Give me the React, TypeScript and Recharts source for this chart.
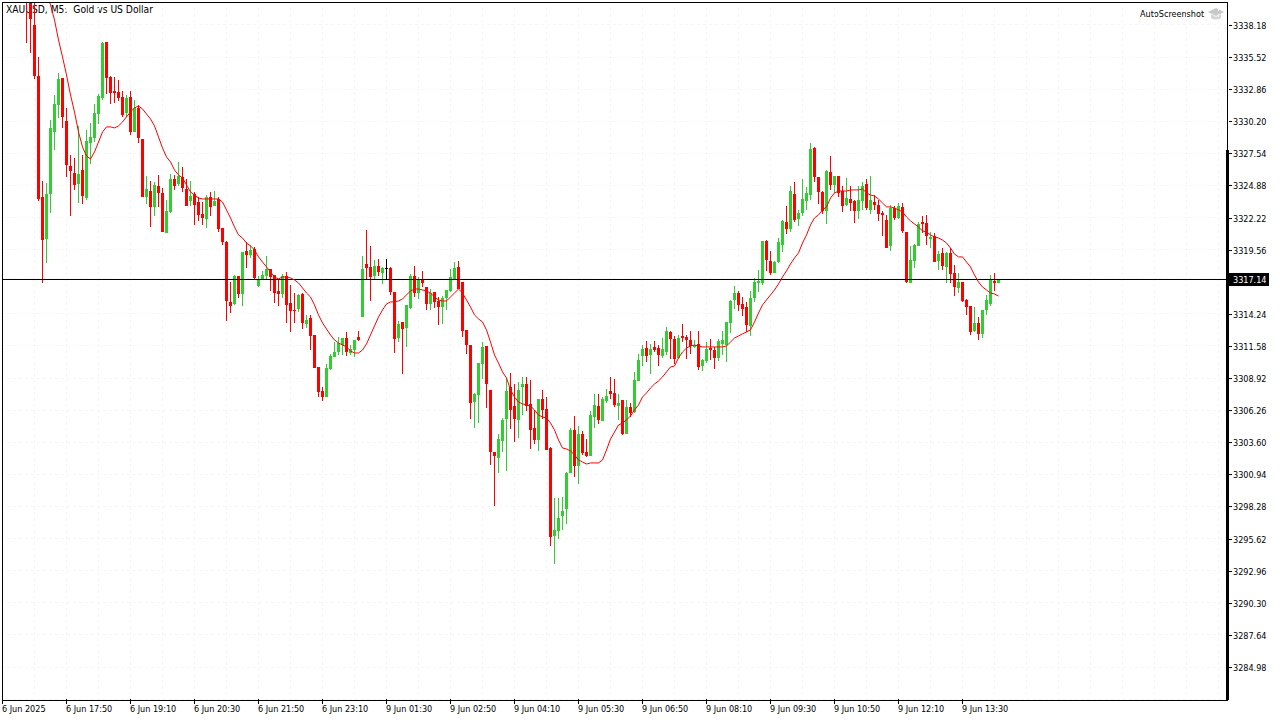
import { ComposedChart, Bar, Line, XAxis, YAxis, CartesianGrid, ReferenceLine } from "recharts";

// M5 bars, oldest first. The first few bars of the window sit above the visible price range.
const opens = [
  3341.6, 3341.2, 3338.18, 3333.95, 3323.93, 3320.45, 3324.18, 3329.31, 3331.55, 3333.78,
  3330.22, 3326.49, 3325.92, 3325.0, 3326.16, 3323.84, 3328.4, 3328.82, 3330.8, 3332.13,
  3336.77, 3333.87, 3332.71, 3332.63, 3332.21, 3330.89, 3332.21, 3329.31, 3331.3, 3328.73,
  3323.93, 3324.42, 3323.1, 3324.84, 3324.26, 3320.94, 3322.68, 3325.42, 3325.0, 3325.58,
  3324.59, 3323.6, 3324.18, 3323.51, 3322.52, 3322.1, 3323.93, 3323.18, 3323.76, 3321.36,
  3320.2, 3315.23, 3315.06, 3317.38, 3315.89, 3319.45, 3319.12, 3319.62, 3316.55, 3317.13,
  3317.38, 3317.96, 3317.46, 3316.14, 3315.89, 3317.38, 3315.14, 3314.56, 3314.65, 3315.89,
  3313.4, 3313.9, 3312.49, 3309.84, 3307.85, 3307.35, 3309.67, 3310.67, 3311.08, 3311.66,
  3312.24, 3311.0, 3311.25, 3312.33, 3313.98, 3318.38, 3318.13, 3317.38, 3318.21, 3317.63,
  3318.04, 3318.04, 3316.05, 3312.24, 3313.57, 3313.07, 3314.73, 3317.38, 3315.97, 3317.13,
  3316.47, 3315.06, 3316.05, 3315.31, 3314.81, 3315.56, 3316.14, 3317.05, 3318.13, 3316.88,
  3312.91, 3311.66, 3306.94, 3307.52, 3310.09, 3311.58, 3307.94, 3302.8, 3302.3, 3303.71,
  3305.53, 3308.18, 3306.61, 3305.45, 3308.18, 3308.43, 3306.78, 3304.79, 3303.79, 3307.19,
  3306.36, 3303.13, 3295.84, 3296.25, 3297.49, 3298.07, 3301.06, 3304.62, 3301.64, 3304.29,
  3302.8, 3302.47, 3305.7, 3306.61, 3305.37, 3307.02, 3307.85, 3307.69, 3306.61, 3307.11,
  3304.29, 3306.53, 3306.11, 3308.68, 3310.75, 3311.41, 3310.83, 3311.5, 3311.41, 3310.75,
  3311.08, 3312.74, 3312.16, 3310.59, 3312.41, 3312.33, 3312.08, 3311.5, 3311.75, 3309.92,
  3310.34, 3311.41, 3311.25, 3310.59, 3311.75, 3311.66, 3313.49, 3315.39, 3315.97, 3315.06,
  3314.81, 3313.24, 3315.56, 3316.8, 3316.8, 3320.28, 3318.62, 3317.63, 3318.54, 3319.95,
  3321.86, 3321.28, 3324.18, 3322.1, 3322.6, 3323.6, 3324.09, 3327.99, 3325.58, 3324.34,
  3322.77, 3326.0, 3324.92, 3325.67, 3324.42, 3323.26, 3323.76, 3323.6, 3322.77, 3323.6,
  3325.0, 3322.85, 3323.51, 3323.26, 3322.6, 3322.02, 3319.87, 3323.01, 3322.19, 3323.1,
  3321.03, 3316.8, 3318.62, 3319.87, 3321.86, 3321.77, 3320.45, 3320.69, 3318.62, 3319.29,
  3318.13, 3319.29, 3317.63, 3316.39, 3316.88, 3315.39, 3314.89, 3312.82, 3313.49, 3312.58,
  3314.56, 3315.06, 3316.97, 3316.8,
];

const highs = [
  3342.3, 3342.4, 3341.0, 3335.53, 3325.25, 3325.09, 3330.31, 3332.38, 3334.2, 3333.78,
  3331.3, 3327.41, 3327.16, 3329.81, 3327.41, 3329.48, 3330.06, 3331.63, 3332.46, 3336.77,
  3336.77, 3333.95, 3333.87, 3333.62, 3332.71, 3332.38, 3332.71, 3331.96, 3331.55, 3328.73,
  3325.67, 3325.25, 3325.17, 3325.75, 3324.67, 3323.68, 3325.83, 3325.75, 3326.83, 3326.41,
  3325.42, 3325.25, 3324.34, 3323.93, 3323.51, 3324.09, 3324.34, 3324.42, 3323.93, 3321.36,
  3320.28, 3316.88, 3317.46, 3317.38, 3319.37, 3320.2, 3319.95, 3319.78, 3317.38, 3317.8,
  3319.04, 3317.96, 3317.46, 3317.13, 3317.55, 3317.71, 3316.63, 3315.97, 3315.89, 3315.97,
  3314.15, 3314.15, 3312.49, 3309.84, 3308.18, 3310.09, 3310.92, 3311.91, 3312.33, 3312.24,
  3312.74, 3311.66, 3312.08, 3312.82, 3319.04, 3321.19, 3319.87, 3318.71, 3318.79, 3318.13,
  3318.79, 3318.13, 3316.05, 3313.65, 3313.57, 3314.98, 3317.55, 3318.21, 3317.3, 3317.8,
  3316.47, 3316.3, 3316.05, 3315.64, 3315.72, 3316.22, 3317.96, 3318.54, 3318.62, 3316.88,
  3312.91, 3311.66, 3307.69, 3310.17, 3311.91, 3311.58, 3307.94, 3302.8, 3304.29, 3305.61,
  3308.93, 3309.34, 3308.43, 3308.6, 3309.01, 3309.01, 3308.76, 3306.28, 3307.19, 3307.94,
  3307.35, 3303.21, 3298.99, 3298.99, 3299.07, 3301.14, 3304.79, 3305.78, 3304.95, 3304.54,
  3303.87, 3306.19, 3307.6, 3307.6, 3307.35, 3308.02, 3309.01, 3308.85, 3307.6, 3307.11,
  3307.11, 3306.86, 3309.43, 3310.92, 3311.66, 3312.0, 3311.75, 3312.0, 3311.66, 3312.24,
  3313.15, 3312.82, 3312.41, 3312.49, 3313.4, 3312.49, 3312.82, 3312.08, 3312.82, 3310.5,
  3311.91, 3312.16, 3311.5, 3312.16, 3312.82, 3313.57, 3315.39, 3316.55, 3316.14, 3315.64,
  3315.23, 3316.14, 3317.22, 3317.88, 3320.28, 3320.36, 3319.45, 3318.62, 3320.53, 3322.02,
  3323.18, 3324.84, 3325.17, 3322.85, 3325.42, 3324.76, 3328.4, 3328.07, 3325.58, 3324.42,
  3326.16, 3327.32, 3325.67, 3325.67, 3324.84, 3325.5, 3324.84, 3323.68, 3324.84, 3325.17,
  3325.42, 3325.67, 3324.09, 3323.68, 3322.77, 3322.44, 3323.26, 3323.18, 3323.43, 3323.43,
  3321.03, 3319.87, 3320.03, 3321.86, 3322.35, 3322.44, 3321.03, 3320.94, 3319.45, 3319.7,
  3319.37, 3319.7, 3318.29, 3317.63, 3316.88, 3315.48, 3314.89, 3314.81, 3313.98, 3314.56,
  3315.81, 3317.46, 3317.63, 3317.14,
];

const lows = [
  3336.69, 3335.86, 3333.7, 3323.6, 3316.8, 3318.46, 3322.6, 3327.82, 3330.47, 3329.65,
  3325.58, 3322.35, 3324.51, 3323.43, 3323.35, 3323.68, 3326.66, 3328.48, 3329.98, 3331.96,
  3332.46, 3331.63, 3331.72, 3331.88, 3330.56, 3330.56, 3329.06, 3329.31, 3328.4, 3323.93,
  3323.35, 3321.44, 3322.35, 3323.1, 3321.03, 3320.94, 3322.6, 3324.51, 3324.84, 3324.34,
  3323.18, 3323.18, 3321.61, 3321.94, 3321.61, 3321.36, 3322.35, 3323.18, 3321.03, 3319.95,
  3313.65, 3314.31, 3314.98, 3315.56, 3314.89, 3318.04, 3318.87, 3317.05, 3316.47, 3317.05,
  3317.05, 3316.14, 3315.14, 3314.89, 3315.56, 3313.49, 3312.74, 3313.49, 3314.4, 3312.99,
  3313.07, 3311.25, 3309.76, 3307.35, 3307.02, 3307.35, 3309.59, 3310.67, 3310.83, 3310.83,
  3310.75, 3310.83, 3310.67, 3312.0, 3313.98, 3317.05, 3315.31, 3317.05, 3317.38, 3316.72,
  3317.13, 3315.81, 3311.0, 3311.91, 3309.26, 3311.5, 3314.65, 3315.64, 3315.48, 3316.47,
  3314.56, 3314.56, 3314.73, 3313.32, 3313.4, 3314.56, 3316.05, 3317.05, 3316.3, 3312.33,
  3310.92, 3305.53, 3304.79, 3305.2, 3308.85, 3306.44, 3301.72, 3298.32, 3301.06, 3302.8,
  3301.22, 3304.7, 3303.63, 3303.96, 3305.86, 3306.19, 3303.05, 3303.46, 3302.88, 3305.53,
  3302.96, 3295.01, 3293.52, 3295.59, 3296.34, 3296.83, 3301.06, 3300.73, 3300.15, 3302.55,
  3302.38, 3302.47, 3304.79, 3305.12, 3305.37, 3306.86, 3307.19, 3306.53, 3305.45, 3304.21,
  3304.29, 3305.7, 3306.03, 3308.68, 3309.92, 3310.25, 3309.26, 3311.08, 3309.92, 3310.59,
  3310.83, 3310.5, 3310.09, 3310.5, 3311.91, 3310.5, 3310.92, 3311.41, 3309.59, 3309.51,
  3310.17, 3310.42, 3309.67, 3310.34, 3310.83, 3310.25, 3312.66, 3314.65, 3314.48, 3314.07,
  3312.74, 3312.41, 3315.23, 3316.05, 3316.63, 3317.8, 3317.46, 3317.63, 3318.46, 3319.37,
  3320.86, 3321.03, 3321.86, 3321.52, 3322.35, 3322.85, 3323.68, 3325.17, 3323.35, 3322.52,
  3321.69, 3324.51, 3324.26, 3323.93, 3322.68, 3323.18, 3322.77, 3321.77, 3322.1, 3322.85,
  3322.85, 3322.52, 3322.85, 3321.94, 3320.69, 3319.7, 3319.45, 3322.02, 3322.1, 3320.94,
  3316.8, 3316.8, 3318.04, 3319.87, 3320.94, 3319.95, 3319.7, 3318.54, 3317.88, 3317.88,
  3316.8, 3316.8, 3315.72, 3315.97, 3315.23, 3314.15, 3312.49, 3312.74, 3312.08, 3312.24,
  3314.15, 3314.89, 3316.14, 3316.8,
];

const closes = [
  3340.6, 3338.68, 3333.95, 3323.76, 3320.36, 3324.18, 3329.65, 3331.63, 3333.7, 3330.56,
  3326.58, 3326.08, 3324.92, 3325.83, 3324.01, 3328.57, 3328.9, 3330.89, 3332.3, 3336.69,
  3333.78, 3332.54, 3332.54, 3332.13, 3330.72, 3332.13, 3329.31, 3331.3, 3328.82, 3323.93,
  3324.59, 3323.1, 3324.92, 3324.26, 3321.03, 3322.77, 3325.42, 3324.84, 3325.67, 3324.67,
  3323.18, 3324.01, 3323.26, 3322.44, 3322.19, 3323.93, 3323.1, 3323.6, 3321.28, 3320.2,
  3315.31, 3314.89, 3317.38, 3315.89, 3319.37, 3319.12, 3319.54, 3317.22, 3317.13, 3317.46,
  3317.96, 3317.3, 3315.97, 3315.89, 3317.38, 3314.98, 3314.48, 3314.48, 3315.81, 3313.49,
  3313.74, 3312.41, 3309.76, 3307.77, 3307.35, 3309.76, 3310.75, 3311.08, 3311.83, 3312.24,
  3311.08, 3311.33, 3312.08, 3312.08, 3317.96, 3318.04, 3317.3, 3318.21, 3317.71, 3318.04,
  3318.04, 3316.05, 3312.16, 3313.4, 3312.99, 3314.98, 3317.38, 3315.97, 3317.13, 3316.8,
  3315.06, 3315.97, 3315.23, 3314.81, 3315.56, 3316.22, 3317.3, 3318.04, 3316.3, 3312.82,
  3311.66, 3306.86, 3307.6, 3310.17, 3311.5, 3308.43, 3302.8, 3302.47, 3303.87, 3305.45,
  3307.85, 3306.28, 3305.53, 3307.94, 3308.43, 3306.61, 3304.62, 3303.79, 3307.19, 3306.28,
  3302.96, 3295.75, 3296.34, 3297.33, 3297.91, 3301.06, 3304.62, 3301.64, 3304.29, 3302.71,
  3302.47, 3305.86, 3306.69, 3305.45, 3307.19, 3307.44, 3307.6, 3306.69, 3306.86, 3304.29,
  3306.53, 3306.03, 3308.76, 3310.42, 3311.33, 3310.75, 3311.33, 3311.25, 3310.83, 3311.33,
  3312.82, 3312.16, 3310.5, 3312.24, 3312.24, 3312.08, 3311.58, 3311.66, 3309.84, 3310.42,
  3311.33, 3311.25, 3310.59, 3312.0, 3312.08, 3313.57, 3315.31, 3315.97, 3314.98, 3314.65,
  3313.32, 3315.56, 3316.88, 3316.97, 3320.28, 3318.71, 3317.63, 3318.54, 3320.2, 3321.94,
  3321.28, 3324.42, 3322.02, 3322.6, 3323.76, 3324.26, 3327.9, 3325.58, 3324.34, 3322.77,
  3326.08, 3324.92, 3325.67, 3324.26, 3323.18, 3323.84, 3323.43, 3322.77, 3323.68, 3324.84,
  3323.01, 3323.68, 3323.26, 3322.52, 3322.44, 3319.7, 3323.01, 3322.19, 3323.18, 3321.11,
  3316.88, 3318.71, 3319.95, 3321.69, 3321.69, 3320.69, 3320.61, 3318.54, 3319.2, 3318.21,
  3319.29, 3317.55, 3316.47, 3316.88, 3315.31, 3314.81, 3312.74, 3313.49, 3312.58, 3314.56,
  3315.39, 3317.13, 3316.8, 3317.14,
];

// moving average, starts a few bars after the first visible candle
const movingAvg = [
  3340.91, 3339.84, 3338.59, 3336.94, 3335.53, 3334.04, 3332.38, 3330.97, 3329.31, 3328.07,
  3327.32, 3327.07, 3327.66, 3328.48, 3329.31, 3329.73, 3329.73, 3329.65, 3329.81, 3330.14,
  3330.56, 3330.97, 3331.3, 3331.47, 3331.22, 3330.8, 3330.39, 3329.81, 3328.9, 3327.99,
  3327.24, 3326.83, 3326.16, 3325.75, 3325.5, 3324.92, 3324.34, 3324.09, 3323.84, 3323.76,
  3323.76, 3323.76, 3323.76, 3323.76, 3323.51, 3322.85, 3322.19, 3321.44, 3320.78, 3320.53,
  3320.11, 3319.87, 3319.54, 3318.96, 3318.54, 3318.13, 3317.71, 3317.3, 3317.13, 3317.3,
  3317.3, 3317.22, 3317.05, 3316.8, 3316.39, 3315.97, 3315.64, 3314.98, 3314.15, 3313.49,
  3312.99, 3312.49, 3312.08, 3311.83, 3311.66, 3311.5, 3311.17, 3311.0, 3311.0, 3311.25,
  3311.75, 3312.49, 3313.24, 3313.98, 3314.56, 3315.06, 3315.23, 3315.23, 3315.31, 3315.48,
  3315.81, 3316.14, 3316.3, 3316.3, 3316.22, 3316.14, 3315.97, 3315.64, 3315.39, 3315.31,
  3315.31, 3315.64, 3315.97, 3316.3, 3315.97, 3315.39, 3314.81, 3314.15, 3313.82, 3313.57,
  3312.91, 3311.91, 3310.83, 3310.17, 3309.43, 3308.93, 3307.94, 3307.35, 3306.94, 3306.78,
  3306.69, 3306.61, 3306.28, 3305.86, 3305.7, 3305.61, 3305.2, 3304.62, 3303.79, 3303.13,
  3303.05, 3302.88, 3302.55, 3302.14, 3301.97, 3301.8, 3301.89, 3301.89, 3301.89, 3302.14,
  3302.96, 3303.87, 3304.45, 3305.03, 3305.2, 3305.45, 3305.78, 3306.28, 3306.69, 3307.35,
  3307.69, 3308.1, 3308.43, 3308.68, 3309.01, 3309.43, 3309.84, 3309.92, 3310.59, 3311.08,
  3311.41, 3311.58, 3311.66, 3311.58, 3311.5, 3311.5, 3311.5, 3311.5, 3311.5, 3311.5,
  3311.58, 3311.91, 3312.24, 3312.41, 3312.58, 3312.74, 3312.91, 3313.57, 3314.31, 3314.98,
  3315.39, 3315.81, 3316.22, 3316.72, 3317.3, 3317.8, 3318.38, 3318.87, 3319.29, 3320.11,
  3320.78, 3321.61, 3322.19, 3322.44, 3322.85, 3323.1, 3323.84, 3324.26, 3324.42, 3324.42,
  3324.42, 3324.51, 3324.51, 3324.51, 3324.59, 3324.26, 3324.09, 3324.01, 3323.76, 3323.43,
  3323.1, 3323.1, 3323.01, 3322.85, 3322.68, 3322.27, 3321.94, 3321.69, 3321.44, 3321.11,
  3321.03, 3320.78, 3320.61, 3320.53, 3320.36, 3320.11, 3319.7, 3319.2, 3318.96, 3318.96,
  3318.54, 3318.13, 3317.46, 3316.88, 3316.47, 3316.22, 3315.97, 3315.89, 3315.72,
];

const timeLabels = [
  "6 Jun 2025", "6 Jun 17:50", "6 Jun 19:10", "6 Jun 20:30", "6 Jun 21:50", "6 Jun 23:10",
  "9 Jun 01:30", "9 Jun 02:50", "9 Jun 04:10", "9 Jun 05:30", "9 Jun 06:50", "9 Jun 08:10",
  "9 Jun 09:30", "9 Jun 10:50", "9 Jun 12:10", "9 Jun 13:30",
];

const priceTicks = [
  3338.18, 3335.52, 3332.86, 3330.2, 3327.54, 3324.88, 3322.22, 3319.56, 3314.24, 3311.58, 3308.92,
  3306.26, 3303.6, 3300.94, 3298.28, 3295.62, 3292.96, 3290.3, 3287.64, 3284.98,
];

const lastPrice = 3317.14;
const SLOTS = 307;
const BARS_BEFORE_VIEW = 6; // empty slots left of the first candle
const MA_START = 5; // candles before the moving average begins
const LABEL_EVERY = 16;
const GRID_EVERY = 8;

const UP = "#32cd32";
const DOWN = "#ff0000";
const GRID = "#f6f6f6";
const FONT = "'DejaVu Sans Condensed', 'DejaVu Sans', sans-serif";
const FONT_SIZE = 9;

const rows = Array.from({ length: SLOTS }, (_, slot) => {
  const i = slot - BARS_BEFORE_VIEW;
  if (i < 0 || i >= opens.length) return { slot };
  return {
    slot,
    open: opens[i],
    high: highs[i],
    low: lows[i],
    close: closes[i],
    range: [lows[i], highs[i]],
    ma: i >= MA_START ? movingAvg[i - MA_START] : null,
  };
});

const xTicks = timeLabels.map((_, i) => i * LABEL_EVERY);
// grid is 4px per slot, first slot centred on column 2
const gridColumns = Array.from({ length: Math.floor(SLOTS / GRID_EVERY) }, (_, i) => 2.5 + (i + 1) * GRID_EVERY * 4);

function Candle(props: any) {
  const { x, y, height, payload } = props;
  if (payload.high === undefined) return null;
  const { open, high, low, close } = payload;
  const perUnit = height / (high - low);
  const top = Math.round(y);
  const bottom = Math.round(y + height);
  const bodyTop = Math.round(y + (high - Math.max(open, close)) * perUnit);
  const bodyBottom = Math.round(y + (high - Math.min(open, close)) * perUnit);
  const left = Math.floor(x);
  if (open === close) {
    return (
      <g shapeRendering="crispEdges">
        <rect x={left + 1} y={top} width={1} height={bottom - top} fill="#000" />
        <rect x={left} y={bodyTop} width={3} height={1} fill="#000" />
      </g>
    );
  }
  const color = close > open ? UP : DOWN;
  return (
    <g shapeRendering="crispEdges">
      <rect x={left + 1} y={top} width={1} height={bottom - top} fill={color} />
      <rect x={left} y={bodyTop} width={3} height={Math.max(bodyBottom - bodyTop, 1)} fill={color} />
    </g>
  );
}

function PriceTick({ y, payload }: any) {
  const row = Math.round(y);
  if (payload.value === lastPrice) {
    return (
      <g>
        <rect x={1229} y={row - 6} width={40} height={13} fill="#000" shapeRendering="crispEdges" />
        <text x={1233} y={row + 4} fontFamily={FONT} fontSize={FONT_SIZE} fill="#fff">
          {payload.value.toFixed(2)}
        </text>
      </g>
    );
  }
  return (
    <g>
      <line x1={1229} x2={1232} y1={row + 0.5} y2={row + 0.5} stroke="#000" shapeRendering="crispEdges" />
      <text x={1233} y={row + 4} fontFamily={FONT} fontSize={FONT_SIZE} fill="#000">
        {payload.value.toFixed(2)}
      </text>
    </g>
  );
}

function TimeTick({ x, payload }: any) {
  const col = Math.floor(x);
  return (
    <g>
      <line x1={col + 0.5} x2={col + 0.5} y1={699} y2={704} stroke="#000" shapeRendering="crispEdges" />
      <text x={col} y={712} fontFamily={FONT} fontSize={FONT_SIZE} fill="#000">
        {timeLabels[payload.value / LABEL_EVERY]}
      </text>
    </g>
  );
}

function PriceLine({ y1 }: any) {
  const row = Math.round(y1) + 0.5;
  return <line x1={2} x2={1228} y1={row} y2={row} stroke="#000" shapeRendering="crispEdges" />;
}

export default function App() {
  return (
    <div style={{ position: "fixed", left: 0, top: 0, width: 1280, height: 720, background: "#fff", overflow: "hidden" }}>
      <div style={{ position: "absolute", left: 6, top: 4, font: `10.2px ${FONT}`, lineHeight: "12px", whiteSpace: "pre", color: "#000" }}>
        {"XAUUSD, M5:  Gold vs US Dollar"}
      </div>
      <div style={{ position: "absolute", left: 1140, top: 8, font: `${FONT_SIZE}px ${FONT}`, lineHeight: "12px", color: "#000" }}>
        AutoScreenshot
      </div>
      <svg width={17} height={13} style={{ position: "absolute", left: 1208, top: 8 }}>
        <polygon points="0,4 8,0 16,4 8,8" fill="#c8c8c8" />
        <path d="M3,6 L3,10 Q8,13 13,10 L13,6 L8,9 Z" fill="#d4d4d4" />
      </svg>

      <div style={{ position: "absolute", left: 0, top: 0 }}>
        <ComposedChart
          width={1280}
          height={720}
          data={rows}
          margin={{ top: 2, right: 0, bottom: 0, left: 0.5 }}
          barCategoryGap={0}
        >
          <CartesianGrid verticalPoints={gridColumns} stroke={GRID} strokeDasharray="3 3" shapeRendering="crispEdges" />
          <XAxis
            dataKey="slot"
            ticks={xTicks}
            interval={0}
            height={21}
            axisLine={false}
            tickLine={false}
            tick={<TimeTick />}
          />
          <YAxis
            orientation="right"
            width={51.5}
            domain={[3282.33, 3340.08]}
            allowDataOverflow
            ticks={[...priceTicks, lastPrice]}
            interval={0}
            axisLine={false}
            tickLine={false}
            tick={<PriceTick />}
          />
          <ReferenceLine y={lastPrice} shape={<PriceLine />} />
          <Bar dataKey="range" barSize={3} shape={<Candle />} isAnimationActive={false} />
          <Line
            dataKey="ma"
            type="linear"
            stroke="#ff0000"
            strokeWidth={1}
            dot={false}
            connectNulls={false}
            isAnimationActive={false}
          />
        </ComposedChart>
      </div>

      {/* chart frame and the heavier lower part of the price scale */}
      <div style={{ position: "absolute", left: 2, top: 2, width: 1225, height: 697, borderTop: "1px solid #000", borderLeft: "1px solid #000", borderBottom: "1px solid #000", pointerEvents: "none" }} />
      <div style={{ position: "absolute", left: 1227, top: 2, width: 1, height: 148, background: "#000" }} />
      <div style={{ position: "absolute", left: 1226, top: 150, width: 3, height: 550, background: "#000" }} />
    </div>
  );
}
